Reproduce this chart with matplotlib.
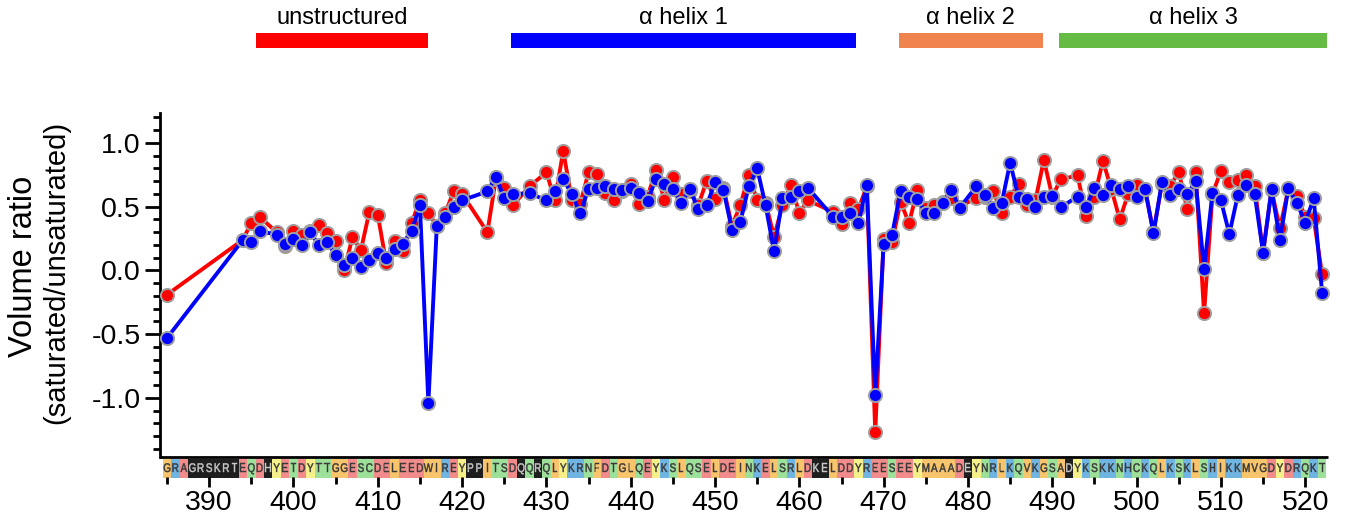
import matplotlib
matplotlib.use("Agg")
import matplotlib.pyplot as plt
from matplotlib.ticker import MultipleLocator, FormatStrFormatter
from matplotlib.patches import Rectangle, PathPatch
from matplotlib.lines import Line2D
from matplotlib.textpath import TextPath
from matplotlib.font_manager import FontProperties
from matplotlib import transforms

plt.rcParams['font.family'] = ['Liberation Sans', 'DejaVu Sans']
plt.rcParams['axes.unicode_minus'] = False

# ---------------- data ----------------
residues = [385, 394, 395, 396, 398, 399, 400, 401, 402, 403, 404, 405, 406, 407, 408,
            409, 410, 411, 412, 413, 414, 415, 416, 417, 418, 419, 420, 423, 424, 425,
            426, 428, 430, 431, 432, 433, 434, 435, 436, 437, 438, 439, 440, 441, 442,
            443, 444, 445, 446, 447, 448, 449, 450, 451, 452, 453, 454, 455, 456, 457,
            458, 459, 460, 461, 464, 465, 466, 467, 468, 469, 470, 471, 472, 473, 474,
            475, 476, 477, 478, 479, 481, 482, 483, 484, 485, 486, 487, 488, 489, 490,
            491, 493, 494, 495, 496, 497, 498, 499, 500, 501, 502, 503, 504, 505, 506,
            507, 508, 509, 510, 511, 512, 513, 514, 515, 516, 517, 518, 519, 520, 521, 522]

red_ratio = [-0.19, 0.24, 0.375, 0.42, 0.30, 0.19, 0.31, 0.28, 0.31, 0.36, 0.29, 0.23, 0.00, 0.26, 0.16,
             0.46, 0.435, 0.06, 0.23, 0.15, 0.37, 0.55, 0.45, 0.35, 0.45, 0.62, 0.60, 0.30, 0.72, 0.645,
             0.51, 0.66, 0.77, 0.55, 0.94, 0.55, 0.52, 0.77, 0.755, 0.605, 0.55, 0.62, 0.68, 0.52, 0.58,
             0.79, 0.55, 0.73, 0.60, 0.62, 0.51, 0.70, 0.56, 0.65, 0.35, 0.51, 0.75, 0.55, 0.53, 0.265,
             0.51, 0.67, 0.45, 0.55, 0.46, 0.365, 0.53, 0.48, 0.66, -1.27, 0.25, 0.22, 0.54, 0.37, 0.63,
             0.49, 0.51, 0.54, 0.57, 0.50, 0.57, 0.58, 0.62, 0.45, 0.58, 0.68, 0.51, 0.55, 0.867, 0.58,
             0.715, 0.745, 0.43, 0.58, 0.86, 0.64, 0.40, 0.60, 0.67, 0.64, 0.30, 0.68, 0.66, 0.775, 0.48,
             0.775, -0.336, 0.60, 0.78, 0.69, 0.71, 0.75, 0.66, 0.14, 0.63, 0.33, 0.64, 0.585, 0.42, 0.41, -0.03]

blue_ratio = [-0.53, 0.24, 0.22, 0.31, 0.28, 0.21, 0.25, 0.20, 0.30, 0.20, 0.22, 0.12, 0.04, 0.10, 0.03,
              0.08, 0.14, 0.10, 0.17, 0.21, 0.31, 0.51, -1.04, 0.35, 0.42, 0.50, 0.55, 0.62, 0.735, 0.57,
              0.60, 0.605, 0.55, 0.62, 0.715, 0.60, 0.45, 0.64, 0.65, 0.66, 0.64, 0.63, 0.65, 0.605, 0.545,
              0.72, 0.68, 0.64, 0.53, 0.64, 0.48, 0.51, 0.69, 0.63, 0.32, 0.38, 0.66, 0.80, 0.51, 0.15,
              0.565, 0.58, 0.62, 0.65, 0.42, 0.42, 0.45, 0.37, 0.67, -0.98, 0.205, 0.28, 0.62, 0.575, 0.56,
              0.45, 0.45, 0.53, 0.63, 0.49, 0.66, 0.59, 0.49, 0.53, 0.845, 0.575, 0.56, 0.50, 0.575, 0.585,
              0.495, 0.58, 0.495, 0.65, 0.59, 0.67, 0.64, 0.66, 0.575, 0.64, 0.29, 0.69, 0.59, 0.636, 0.597,
              0.70, 0.01, 0.61, 0.55, 0.286, 0.59, 0.67, 0.60, 0.14, 0.636, 0.24, 0.645, 0.53, 0.375, 0.566, -0.174]

sequence = ("GRAGRSKRTEQDHYETDYTTGGESCDELEEDWIREYPPITSDQQRQLYKRNFDTGLQEYKSLQSELDEIN"
            "KELSRLDKELDDYREESEEYMAAADEYNRLKQVKGSADYKSKKNHCKQLKSKLSHIKKMVGDYDRQKT")
first_residue = 385
dark_residues = [388, 389, 390, 391, 392, 393, 397, 421, 422, 427, 429, 462, 463, 480, 492]
pink_override = [387]

region_labels = ["unstructured", "\u03b1 helix 1", "\u03b1 helix 2", "\u03b1 helix 3"]
region_starts = [395.5, 425.8, 471.8, 490.8]
region_ends = [416.0, 466.7, 488.9, 522.6]
region_colors = ["#FF0000", "#0000FF", "#F0844E", "#66BB44"]

x_major = list(range(390, 521, 10))

# ---------------- figure ----------------
W, H = 1345, 523
fig = plt.figure(figsize=(W / 100, H / 100), dpi=100)
ax_l, ax_r, ax_t, ax_b = 160, 1328, 113, 457
ax = fig.add_axes([ax_l / W, 1 - ax_b / H, (ax_r - ax_l) / W, (ax_b - ax_t) / H])

ax.plot(residues, red_ratio, color="#FF0000", lw=2.8, marker="o", ms=9.5,
        mfc="#FF0000", mec="#A0A0A0", mew=1.4, zorder=3, clip_on=False)
ax.plot(residues, blue_ratio, color="#0000FF", lw=2.8, marker="o", ms=9.5,
        mfc="#0000FF", mec="#A0A0A0", mew=1.4, zorder=4, clip_on=False)

ax.set_xlim(384.17, 522.7)
ax.set_ylim(-1.463, 1.235)

for s in ["top", "right"]:
    ax.spines[s].set_visible(False)
ax.spines["left"].set_linewidth(2.0)
ax.spines["bottom"].set_position(("outward", 14.4))
ax.spines["bottom"].set_visible(False)

# visible x-axis line directly on top of the sequence strip
ax.add_line(Line2D([0, 1], [0, 0], transform=ax.transAxes, color="black",
                   lw=2.0, clip_on=False, solid_capstyle="butt"))

ax.yaxis.set_major_locator(MultipleLocator(0.5))
ax.yaxis.set_minor_locator(MultipleLocator(0.1))
ax.yaxis.set_major_formatter(FormatStrFormatter("%.1f"))
ax.tick_params(axis="y", which="major", length=10.5, width=2.0, labelsize=20.5, pad=3.5)
ax.tick_params(axis="y", which="minor", length=5, width=2.0)

ax.set_xticks(x_major)
ax.xaxis.set_minor_locator(MultipleLocator(5))
ax.tick_params(axis="x", which="major", length=7.5, width=2.0, labelsize=20.5, pad=2)
ax.tick_params(axis="x", which="minor", length=5, width=2.0)

# ---------------- sequence strip ----------------
class_colors = {}
for c in "GALIMVFWP":
    class_colors[c] = "#F8C46C"
for c in "DE":
    class_colors[c] = "#F28C8C"
for c in "KRH":
    class_colors[c] = "#70B4E2"
for c in "STNQC":
    class_colors[c] = "#9DE09A"
class_colors["Y"] = "#F6F08A"

bt = transforms.blended_transform_factory(ax.transData, ax.transAxes)
h_ax = ax_b - ax_t
strip_top = -1.5 / h_ax
strip_bot = -20.5 / h_ax
letter_prop = FontProperties(family="Liberation Sans")
em_px = 12.4
cap_px = 0.716 * em_px
xstretch = 0.8
for i, aa in enumerate(sequence):
    r = first_residue + i
    if r in dark_residues:
        bg, fg = "#1E1E1E", "#C8C8C8"
    elif r in pink_override:
        bg, fg = "#F28C8C", "#3A3A3A"
    else:
        bg, fg = class_colors.get(aa, "#FFFFFF"), "#3A3A3A"
    ax.add_patch(Rectangle((r - 0.5, strip_bot), 1.0, strip_top - strip_bot,
                           transform=bt, facecolor=bg, edgecolor="none",
                           clip_on=False, zorder=1))
    # slightly condensed letter, placed in display (pixel) coordinates
    tp = TextPath((0, 0), aa, size=em_px, prop=letter_prop)
    ext = tp.get_extents()
    cx = (ext.x0 + ext.x1) / 2
    xd, _ = ax.transData.transform((r, 0))
    ycen = H - 467.5
    tr = (transforms.Affine2D().translate(-cx, 0).scale(xstretch, 1.0)
          .translate(xd, ycen - cap_px / 2))
    fig.add_artist(PathPatch(tp, transform=tr, facecolor=fg, edgecolor=fg,
                             linewidth=0.35, zorder=5))

# ---------------- region bars ----------------
bt_fig = transforms.blended_transform_factory(ax.transData, fig.transFigure)
bar_y0 = 1 - 48 / H
bar_h = 15 / H
for lab, s, e, col in zip(region_labels, region_starts, region_ends, region_colors):
    fig.patches.append(Rectangle((s, bar_y0), e - s, bar_h, transform=bt_fig,
                                 facecolor=col, edgecolor="none"))
    fig.text((s + e) / 2, 1 - 18 / H, lab, transform=bt_fig, ha="center",
             va="center", fontsize=17)

# ---------------- y label ----------------
fig.text(24 / W, 1 - 266 / H, "Volume ratio", rotation=90, ha="center",
         va="center", fontsize=23.5)
fig.text(56 / W, 1 - 272 / H, "(saturated/unsaturated)", rotation=90,
         ha="center", va="center", fontsize=21)

fig.savefig("out.png", dpi=100)
